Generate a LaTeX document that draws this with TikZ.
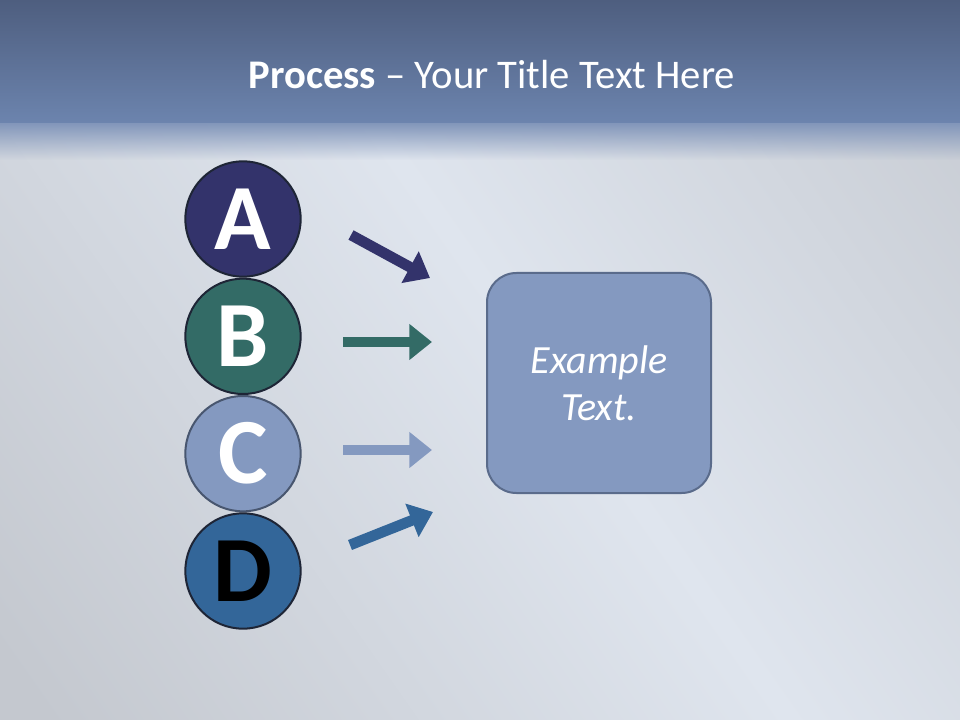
\documentclass[tikz,border=0pt]{standalone}
\usepackage{fontspec}
\setmainfont{Carlito}
\usepackage{tikz}
\usetikzlibrary{positioning,arrows.meta,chains,fadings}
\definecolor{bandtop}{HTML}{4E5E7F}
\definecolor{bandbot}{HTML}{6C84AE}
\definecolor{bgbase}{HTML}{C4C8CF}
\definecolor{bglight}{HTML}{DFE5EE}
\definecolor{ca}{HTML}{33336B}
\definecolor{cb}{HTML}{336B66}
\definecolor{cc}{HTML}{8499C0}
\definecolor{cd}{HTML}{336699}
\definecolor{discline}{HTML}{1E2536}
\definecolor{panelline}{HTML}{5A6B8B}
\def\discsize{86.5pt}
\def\panelwidth{168pt}
\def\panelheight{165pt}
\tikzstyle{disc}=[circle, draw=discline, line width=1.5pt,
    minimum size=\discsize, inner sep=0pt, text=white,
    font=\fontsize{70}{70}\selectfont\bfseries]
\tikzstyle{pointer}=[-{Triangle[length=17pt,width=26pt]}, line width=8pt]
\tikzstyle{panel}=[draw=panelline, line width=1.5pt, fill=cc,
    rounded corners=22pt, text=white, align=center,
    font=\fontsize{30}{35}\selectfont\itshape,
    minimum width=\panelwidth, minimum height=\panelheight]

\begin{document}
\begin{tikzpicture}[x=0.75pt, y=-0.75pt, start chain=going below, node distance=0pt,
            disc/.append style={on chain}]
    % background
    \fill[bgbase] (0,0) rectangle (960,720);
    \begin{scope}
        \clip (0,123) rectangle (960,720);
        \shade[left color=bgbase, right color=bgbase, middle color=bglight, shading angle=125]
            (-160,0) rectangle (1320,840);
    \end{scope}
    \shade[top color=bandtop, bottom color=bandbot] (0,0) rectangle (960,123);
    \fill[bandbot!85!white, path fading=south] (0,123) rectangle (960,160);
    \node[text=white, font=\fontsize{30.5}{36}\selectfont] (title) at (492,75)
        {\textbf{Process} – Your Title Text Here};
    % circles
    \node[disc, fill=ca] (A) at (243,219) {A};
    \node[disc, fill=cb] (B) {B};
    \node[disc, fill=cc, draw=panelline!80!black] (C) {C};
    \node[disc, fill=cd, text=black] (D) {D};
    \node[panel] (example) at (599,383) {Example\\Text.};
    % arrows
    \coordinate (a0) at (351,235); \coordinate (a1) at (430,278);
    \coordinate (b0) at (343,342); \coordinate (b1) at (432,342);
    \coordinate (c0) at (343,450); \coordinate (c1) at (432,450);
    \coordinate (d0) at (350,545); \coordinate (d1) at (433,512);
    \draw[pointer, ca] (a0) -- (a1);
    \draw[pointer, cb] (b0) -- (b1);
    \draw[pointer, cc] (c0) -- (c1);
    \draw[pointer, cd] (d0) -- (d1);
\end{tikzpicture}
\end{document}
